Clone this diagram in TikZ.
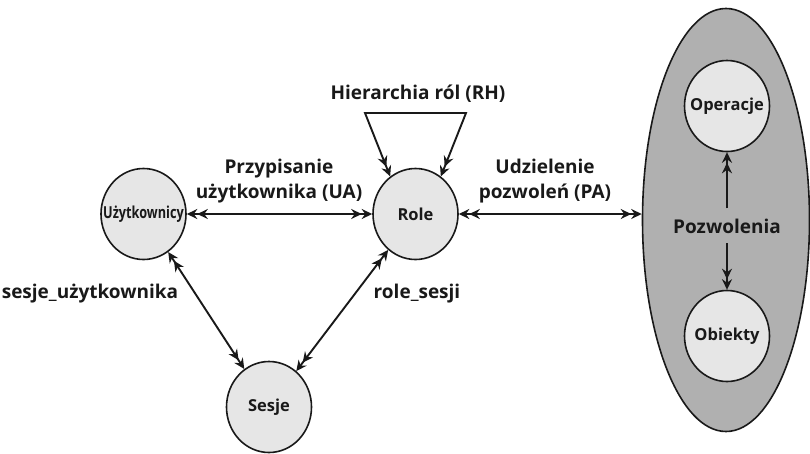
\documentclass[tikz,border=0pt]{standalone}
\usepackage{fontspec}
\setmainfont{Open Sans}
\usetikzlibrary{arrows.meta,shapes.geometric}
\definecolor{cfill}{RGB}{230,230,230}
\definecolor{bfill}{RGB}{176,176,176}
\definecolor{ink}{RGB}{25,25,25}
\newcommand{\ctext}[1]{\makebox[0pt][c]{#1}}
\begin{document}
\begin{tikzpicture}[x=1pt,y=-1pt,
  dbl/.tip={Stealth[length=10.5pt,width=10pt,inset=3.5pt] Stealth[length=10.5pt,width=10pt,inset=3.5pt]},
  ent/.style={ellipse, draw=ink, line width=1.6pt, fill=cfill, minimum width=85pt, minimum height=91pt, inner sep=0pt, font=\fontsize{16.5}{18}\selectfont\bfseries, text=ink},
  lbl/.style={font=\fontsize{19}{25}\selectfont\bfseries, align=center, inner sep=0pt, text=ink},
  conn/.style={draw=ink, line width=1.9pt, arrows={dbl-dbl}},
  oneway/.style={draw=ink, line width=1.9pt, arrows={-dbl}}]
\useasboundingbox (0,0) rectangle (810,453);
% permissions container
\node[ellipse, draw=ink, line width=1.6pt, fill=bfill, minimum width=167pt, minimum height=423pt, inner sep=0pt] (perm) at (726,220) {};
% entities
\node[ent] (users) at (143.5,214) {\ctext{\scalebox{0.77}[1]{Użytkownicy}}};
\node[ent] (role) at (415.5,214) {\ctext{Role}};
\node[ent] (sesje) at (269,407) {\ctext{Sesje}};
\node[ent] (op) at (727,106) {\ctext{Operacje}};
\node[ent] (ob) at (727,336) {\ctext{Obiekty}};
\node[lbl, anchor=base, inner ysep=10pt] (poz) at (727,233) {Pozwolenia};
% labels
\node[lbl] (ua) at (279,181) {Przypisanie\\użytkownika (UA)};
\node[lbl] (pa) at (545,181) {Udzielenie\\pozwoleń (PA)};
\node[lbl, anchor=base] (rh) at (418,99) {Hierarchia ról (RH)};
\node[lbl, anchor=base] (su) at (90,298) {sesje\_użytkownika};
\node[lbl, anchor=base] (rs) at (417,298) {role\_sesji};
% hierarchy loop
\coordinate (hl) at (365,113);
\coordinate (hr) at (466,113);
\draw[conn] (role.124) -- (hl) -- (hr) -- (role.56);
% connectors
\draw[conn] (users) -- (role);
\draw[conn] (role.east) -- (role.east -| perm.west);
\draw[conn] (users) -- (sesje);
\draw[conn] (role) -- (sesje);
\draw[oneway] (poz.north) -- (op.south);
\draw[oneway] (poz.south) -- (ob.north);
\end{tikzpicture}
\end{document}
